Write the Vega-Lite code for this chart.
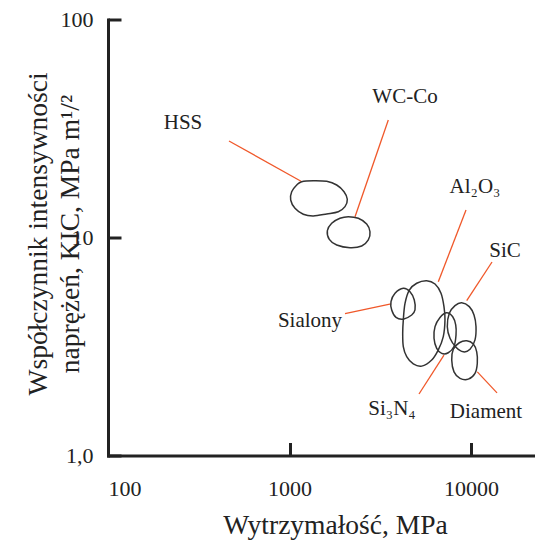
{
  "$schema": "https://vega.github.io/schema/vega-lite/v6.json",
  "width": 427,
  "height": 436,
  "autosize": {"type": "none"},
  "padding": {"left": 108, "top": 19.5, "right": 0, "bottom": 85.5},
  "background": "white",
  "config": {
    "view": {"stroke": null},
    "font": "Liberation Serif",
    "axis": {
      "grid": false,
      "domainColor": "#222222",
      "domainWidth": 3,
      "domainCap": "square",
      "tickColor": "#222222",
      "tickWidth": 3,
      "tickSize": -13,
      "labelFont": "Liberation Serif",
      "labelFontSize": 22,
      "labelColor": "#222222",
      "titleFont": "Liberation Serif",
      "titleFontSize": 27.5,
      "titleFontWeight": "normal",
      "titleColor": "#222222"
    }
  },
  "datasets": {
    "blobs": [
      {"m": "HSS", "i": 0, "x": 1167, "y": 18.03},
      {"m": "HSS", "i": 1, "x": 1352, "y": 18.22},
      {"m": "HSS", "i": 2, "x": 1603, "y": 18.10},
      {"m": "HSS", "i": 3, "x": 1820, "y": 17.41},
      {"m": "HSS", "i": 4, "x": 1997, "y": 16.22},
      {"m": "HSS", "i": 5, "x": 2082, "y": 14.97},
      {"m": "HSS", "i": 6, "x": 2022, "y": 13.85},
      {"m": "HSS", "i": 7, "x": 1857, "y": 13.13},
      {"m": "HSS", "i": 8, "x": 1603, "y": 12.82},
      {"m": "HSS", "i": 9, "x": 1352, "y": 12.55},
      {"m": "HSS", "i": 10, "x": 1191, "y": 12.78},
      {"m": "HSS", "i": 11, "x": 1072, "y": 13.61},
      {"m": "HSS", "i": 12, "x": 1015, "y": 14.86},
      {"m": "HSS", "i": 13, "x": 1028, "y": 16.22},
      {"m": "HSS", "i": 14, "x": 1096, "y": 17.41},
      {"m": "WC-Co", "i": 0, "x": 2109, "y": 12.46},
      {"m": "WC-Co", "i": 1, "x": 2394, "y": 12.25},
      {"m": "WC-Co", "i": 2, "x": 2662, "y": 11.53},
      {"m": "WC-Co", "i": 3, "x": 2776, "y": 10.63},
      {"m": "WC-Co", "i": 4, "x": 2718, "y": 9.74},
      {"m": "WC-Co", "i": 5, "x": 2499, "y": 9.14},
      {"m": "WC-Co", "i": 6, "x": 2154, "y": 8.98},
      {"m": "WC-Co", "i": 7, "x": 1820, "y": 9.24},
      {"m": "WC-Co", "i": 8, "x": 1657, "y": 9.81},
      {"m": "WC-Co", "i": 9, "x": 1616, "y": 10.74},
      {"m": "WC-Co", "i": 10, "x": 1708, "y": 11.62},
      {"m": "WC-Co", "i": 11, "x": 1897, "y": 12.25},
      {"m": "Sialony", "i": 0, "x": 4236, "y": 5.85},
      {"m": "Sialony", "i": 1, "x": 4612, "y": 5.64},
      {"m": "Sialony", "i": 2, "x": 4870, "y": 5.17},
      {"m": "Sialony", "i": 3, "x": 4914, "y": 4.65},
      {"m": "Sialony", "i": 4, "x": 4713, "y": 4.41},
      {"m": "Sialony", "i": 5, "x": 4236, "y": 4.22},
      {"m": "Sialony", "i": 6, "x": 3862, "y": 4.30},
      {"m": "Sialony", "i": 7, "x": 3657, "y": 4.65},
      {"m": "Sialony", "i": 8, "x": 3624, "y": 5.08},
      {"m": "Sialony", "i": 9, "x": 3814, "y": 5.55},
      {"m": "Al2O3", "i": 0, "x": 5700, "y": 6.34},
      {"m": "Al2O3", "i": 1, "x": 6335, "y": 6.12},
      {"m": "Al2O3", "i": 2, "x": 6834, "y": 5.55},
      {"m": "Al2O3", "i": 3, "x": 7097, "y": 4.82},
      {"m": "Al2O3", "i": 4, "x": 7188, "y": 4.18},
      {"m": "Al2O3", "i": 5, "x": 7035, "y": 3.51},
      {"m": "Al2O3", "i": 6, "x": 6604, "y": 3.05},
      {"m": "Al2O3", "i": 7, "x": 6075, "y": 2.74},
      {"m": "Al2O3", "i": 8, "x": 5350, "y": 2.57},
      {"m": "Al2O3", "i": 9, "x": 4809, "y": 2.63},
      {"m": "Al2O3", "i": 10, "x": 4423, "y": 2.84},
      {"m": "Al2O3", "i": 11, "x": 4236, "y": 3.16},
      {"m": "Al2O3", "i": 12, "x": 4204, "y": 3.64},
      {"m": "Al2O3", "i": 13, "x": 4236, "y": 4.18},
      {"m": "Al2O3", "i": 14, "x": 4329, "y": 4.99},
      {"m": "Al2O3", "i": 15, "x": 4572, "y": 5.74},
      {"m": "Al2O3", "i": 16, "x": 5022, "y": 6.17},
      {"m": "Si3N4", "i": 0, "x": 7346, "y": 4.52},
      {"m": "Si3N4", "i": 1, "x": 7930, "y": 4.33},
      {"m": "Si3N4", "i": 2, "x": 8236, "y": 3.97},
      {"m": "Si3N4", "i": 3, "x": 8268, "y": 3.57},
      {"m": "Si3N4", "i": 4, "x": 8059, "y": 3.16},
      {"m": "Si3N4", "i": 5, "x": 7496, "y": 2.96},
      {"m": "Si3N4", "i": 6, "x": 6896, "y": 2.94},
      {"m": "Si3N4", "i": 7, "x": 6471, "y": 3.10},
      {"m": "Si3N4", "i": 8, "x": 6254, "y": 3.45},
      {"m": "Si3N4", "i": 9, "x": 6335, "y": 3.90},
      {"m": "Si3N4", "i": 10, "x": 6748, "y": 4.30},
      {"m": "SiC", "i": 0, "x": 8887, "y": 5.02},
      {"m": "SiC", "i": 1, "x": 9786, "y": 4.82},
      {"m": "SiC", "i": 2, "x": 10389, "y": 4.41},
      {"m": "SiC", "i": 3, "x": 10654, "y": 3.90},
      {"m": "SiC", "i": 4, "x": 10520, "y": 3.39},
      {"m": "SiC", "i": 5, "x": 9874, "y": 3.07},
      {"m": "SiC", "i": 6, "x": 9070, "y": 2.99},
      {"m": "SiC", "i": 7, "x": 8268, "y": 3.14},
      {"m": "SiC", "i": 8, "x": 7661, "y": 3.45},
      {"m": "SiC", "i": 9, "x": 7403, "y": 3.90},
      {"m": "SiC", "i": 10, "x": 7593, "y": 4.49},
      {"m": "SiC", "i": 11, "x": 8162, "y": 4.87},
      {"m": "Diament", "i": 0, "x": 9469, "y": 3.36},
      {"m": "Diament", "i": 1, "x": 10297, "y": 3.25},
      {"m": "Diament", "i": 2, "x": 10750, "y": 2.99},
      {"m": "Diament", "i": 3, "x": 10832, "y": 2.65},
      {"m": "Diament", "i": 4, "x": 10520, "y": 2.38},
      {"m": "Diament", "i": 5, "x": 9663, "y": 2.24},
      {"m": "Diament", "i": 6, "x": 8698, "y": 2.26},
      {"m": "Diament", "i": 7, "x": 8059, "y": 2.42},
      {"m": "Diament", "i": 8, "x": 7830, "y": 2.74},
      {"m": "Diament", "i": 9, "x": 7989, "y": 3.07},
      {"m": "Diament", "i": 10, "x": 8620, "y": 3.29}
    ],
    "leaders": [
      {"m": "HSS", "x": 464, "y": 27.71, "x2": 1164, "y2": 18.07},
      {"m": "WC-Co", "x": 3502, "y": 34.59, "x2": 2296, "y2": 12.46},
      {"m": "Al2O3", "x": 9386, "y": 13.37, "x2": 6604, "y2": 6.27},
      {"m": "SiC", "x": 13055, "y": 7.72, "x2": 9469, "y2": 5.13},
      {"m": "Sialony", "x": 2022, "y": 4.47, "x2": 3624, "y2": 4.96},
      {"m": "Si3N4", "x": 7097, "y": 2.89, "x2": 5170, "y2": 1.915},
      {"m": "Diament", "x": 10832, "y": 2.42, "x2": 13911, "y2": 1.937}
    ],
    "labels": [
      {"t": "HSS", "x": 259, "y": 33.5},
      {"t": "WC-Co", "x": 4329, "y": 44.1},
      {"t": "Al₂O₃", "x": 10520, "y": 17.05},
      {"t": "SiC", "x": 15390, "y": 8.67},
      {"t": "Sialony", "x": 1297, "y": 4.14},
      {"t": "Si₃N₄", "x": 3670, "y": 1.634},
      {"t": "Diament", "x": 12090, "y": 1.583}
    ]
  },
  "encoding": {
    "x": {
      "field": "x",
      "type": "quantitative",
      "scale": {"type": "log", "domain": [100, 22520], "nice": false},
      "axis": {
        "values": [100, 1000, 10000],
        "format": "d",
        "labelPadding": 36,
        "title": "Wytrzymałość, MPa",
        "titleX": 227,
        "titleY": 70,
        "titleAlign": "center",
        "titleBaseline": "middle"
      }
    },
    "y": {
      "field": "y",
      "type": "quantitative",
      "scale": {"type": "log", "domain": [1, 100], "nice": false},
      "axis": {
        "values": [1, 10, 100],
        "labelExpr": "datum.value == 1 ? '1,0' : format(datum.value, 'd')",
        "labelPadding": 28,
        "title": ["Współczynnik intensywności", "naprężeń, KIC, MPa m¹/²"],
        "titleX": -70,
        "titleY": 214,
        "titleAngle": -90,
        "titleAlign": "center",
        "titleBaseline": "middle",
        "titleLineHeight": 32
      }
    }
  },
  "layer": [
    {
      "data": {"name": "leaders"},
      "mark": {"type": "rule", "color": "#f0582a", "strokeWidth": 1.3},
      "encoding": {
        "x2": {"field": "x2"},
        "y2": {"field": "y2"}
      }
    },
    {
      "data": {"name": "blobs"},
      "mark": {"type": "line", "interpolate": "cardinal-closed", "color": "#333333", "strokeWidth": 1.5},
      "encoding": {
        "detail": {"field": "m"},
        "order": {"field": "i", "type": "quantitative"}
      }
    },
    {
      "data": {"name": "labels"},
      "mark": {"type": "text", "font": "Liberation Serif", "fontSize": 21, "color": "#222222", "align": "center", "baseline": "middle"},
      "encoding": {
        "text": {"field": "t"}
      }
    }
  ]
}
